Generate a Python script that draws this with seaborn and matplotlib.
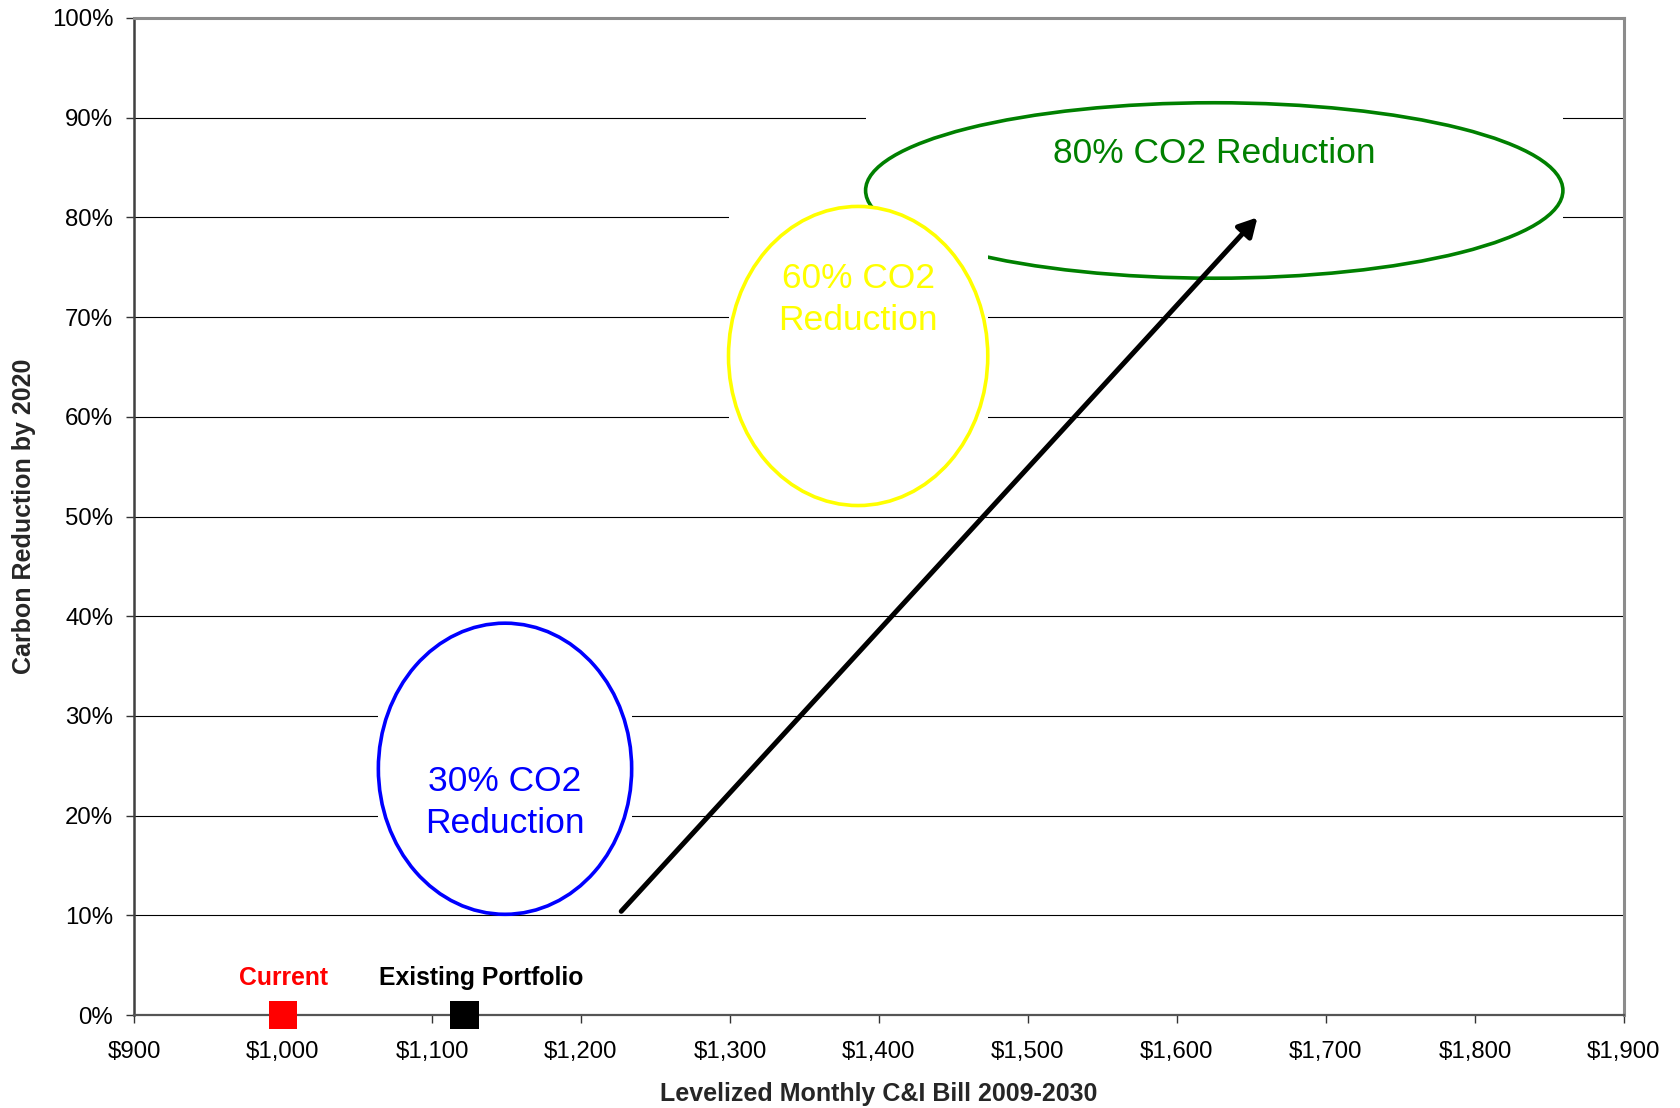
import matplotlib
matplotlib.use("Agg")
import matplotlib.pyplot as plt
from matplotlib.patches import Ellipse, Rectangle
from matplotlib.ticker import FuncFormatter
import pandas as pd
import seaborn as sns

# Reference points sitting on the horizontal axis
point_labels = ["Current", "Existing Portfolio"]
point_bill = [1000, 1122]
point_reduction = [0, 0]
point_colors = ["#FF0000", "#000000"]

# Target zones: centre bill ($), centre reduction (%), half-width ($), half-height (%)
zone_labels = ["30% CO2\nReduction", "60% CO2\nReduction", "80% CO2 Reduction"]
zone_bill = [1149, 1386, 1625]
zone_reduction = [24.7, 66.1, 82.7]
zone_half_bill = [85, 87, 234]
zone_half_reduction = [14.6, 15.0, 8.8]
zone_colors = ["#0000FF", "#FFFF00", "#008000"]

# Trend arrow (start, end)
arrow_bill = [1227, 1654]
arrow_reduction = [10.4, 80.0]

x_ticks = list(range(900, 2000, 100))
y_ticks = list(range(0, 110, 10))

sns.set_theme(style="white")
plt.rcParams["font.family"] = ["Liberation Sans", "DejaVu Sans"]

W, H = 1681, 1108
fig = plt.figure(figsize=(W / 100, H / 100), dpi=100)
ax = fig.add_axes([134 / W, 1 - 1015 / H, 1490 / W, 997 / H])

ax.set_xlim(x_ticks[0], x_ticks[-1])
ax.set_ylim(y_ticks[0], y_ticks[-1])
ax.set_xticks(x_ticks)
ax.set_yticks(y_ticks)
ax.xaxis.set_major_formatter(FuncFormatter(lambda v, _: f"${int(v):,}"))
ax.yaxis.set_major_formatter(FuncFormatter(lambda v, _: f"{int(v)}%"))
ax.set_axisbelow(True)
ax.grid(axis="y", color="black", lw=0.8)
ax.grid(axis="x", visible=False)

ax.tick_params(axis="both", which="major", direction="out", length=6, width=1,
               color="#333333", labelsize=17.3, labelcolor="black")
ax.tick_params(axis="x", pad=13, bottom=True)
ax.tick_params(axis="y", pad=9, left=True)

for side, (col, lw) in {"top": ("#8c8c8c", 2.2), "right": ("#8c8c8c", 2.2),
                        "left": ("#404040", 1.8), "bottom": ("#555555", 1.6)}.items():
    ax.spines[side].set_color(col)
    ax.spines[side].set_linewidth(lw)

# Zones: white box behind each outline hides the gridlines; the 60% box is drawn last
text_offsets = [-3.35, 5.7, 3.7]
z = 2
for i in [0, 2, 1]:
    cx, cy = zone_bill[i], zone_reduction[i]
    a, b = zone_half_bill[i], zone_half_reduction[i]
    ax.add_patch(Rectangle((cx - a, cy - b), 2 * a, 2 * b, facecolor="white",
                           edgecolor="none", zorder=z))
    ax.add_patch(Ellipse((cx, cy), 2 * a, 2 * b, facecolor="none",
                         edgecolor=zone_colors[i], lw=2.6, zorder=z + 0.5))
    ax.text(cx, cy + text_offsets[i], zone_labels[i], color=zone_colors[i],
            fontsize=25.5, ha="center", va="center", multialignment="center",
            linespacing=1.35, zorder=z + 0.6)
    z += 1

# Trend arrow
ax.annotate("", xy=(arrow_bill[1], arrow_reduction[1]),
            xytext=(arrow_bill[0], arrow_reduction[0]),
            arrowprops=dict(arrowstyle="-|>,head_length=0.55,head_width=0.3",
                            mutation_scale=20, lw=3.6, color="black",
                            shrinkA=0, shrinkB=0),
            zorder=20)

# Axis markers
points = pd.DataFrame({"label": point_labels, "bill": point_bill,
                       "reduction": point_reduction})
sns.scatterplot(data=points, x="bill", y="reduction", hue="label",
                palette=dict(zip(point_labels, point_colors)), marker="s",
                s=430, linewidth=0, legend=False, ax=ax, zorder=30, clip_on=False)
ax.set_xlabel("Levelized Monthly C&I Bill 2009-2030", fontsize=18,
              fontweight="bold", labelpad=13.5)
ax.set_ylabel("Carbon Reduction by 2020", fontsize=18, fontweight="bold",
              labelpad=11)

label_shift = [0, 11]
for lab, xb, col, dx in zip(point_labels, point_bill, point_colors, label_shift):
    ax.text(xb + dx, 3.0, lab, color=col, fontsize=17.8, fontweight="bold",
            ha="center", va="baseline", zorder=30)

fig.savefig("out.png", dpi=100, facecolor="white")
